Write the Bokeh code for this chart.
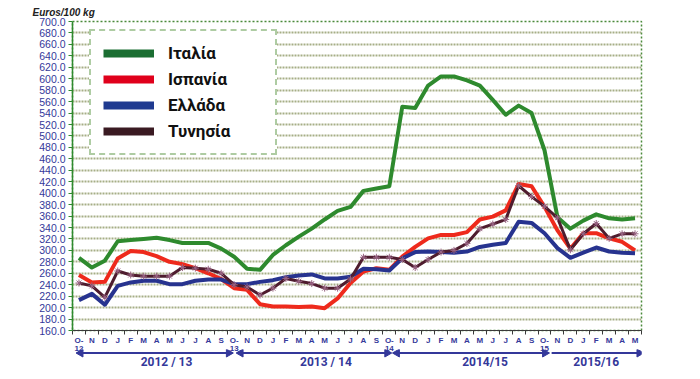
import math
from bokeh.plotting import figure
from bokeh.layouts import column
from bokeh.models import (Range1d, FixedTicker, PrintfTickFormatter, Legend, LegendItem)
from bokeh.core.properties import value
from bokeh.embed import file_html
from bokeh.resources import INLINE

# ---------------- data ----------------
months = ["O-\n12", "N", "D", "J", "F", "M", "A", "M", "J", "J", "A", "S",
          "O-\n13", "N", "D", "J", "F", "M", "A", "M", "J", "J", "A", "S",
          "O-\n14", "N", "D", "J", "F", "M", "A", "M", "J", "J", "A", "S",
          "O-\n15", "N", "D", "J", "F", "M", "A", "M"]
italy = [287, 270, 282, 316, 318, 320, 322, 318, 313, 313,
         313, 303, 289, 268, 266, 292, 309, 324, 338, 354,
         369, 376, 404, 408, 412, 551, 549, 588, 604, 604,
         597, 588, 563, 537, 553, 540, 475, 358, 338, 352,
         363, 356, 354, 356]
spain = [257, 244, 245, 286, 299, 297, 290, 280, 276, 269,
         260, 250, 234, 231, 206, 202, 202, 201, 202, 199,
         216, 243, 263, 269, 266, 289, 306, 321, 327, 327,
         332, 354, 359, 370, 416, 412, 376, 335, 303, 330,
         330, 321, 315, 300]
greece = [213, 224, 205, 238, 244, 247, 247, 241, 241, 247,
          249, 249, 241, 241, 245, 248, 253, 256, 258, 251,
          251, 254, 268, 267, 265, 286, 297, 298, 297, 296,
          298, 306, 310, 313, 350, 348, 330, 304, 287, 296,
          305, 298, 296, 295]
tunisia = [243, 238, 218, 264, 257, 255, 255, 255, 270, 269,
           267, 260, 240, 236, 222, 234, 251, 246, 242, 234,
           234, 250, 288, 288, 288, 284, 270, 284, 297, 300,
           312, 338, 346, 354, 413, 394, 377, 357, 301, 329,
           347, 321, 329, 329]
series_names = ["Ιταλία", "Ισπανία", "Ελλάδα", "Τυνησία"]
seasons = ["2012 / 13", "2013 / 14", "2014/15", "2015/16"]
y_ticks = list(range(160, 701, 20))
y_title = "Euros/100 kg"

# ---------------- layout / style ----------------
W = 690
BL, BR = 72, 49
MAIN_H, BB = 355, 24
line_colors = ["#2e8a2e", "#ee2a1c", "#27338f", "#4e1c2e"]
legend_colors = ["#1b6e32", "#e0001b", "#1f3a90", "#3a1a22"]
axis_blue = "#34389a"
season_label_x = [7.27, 19.6, 31.9, 40.5]
arrow_spans = [(0.36, 12.35, True), (12.74, 24.6, True), (24.83, 36.8, True), (37.05, 44.1, False)]

n = len(months)
xs = [i + 0.5 for i in range(n)]

p = figure(width=W, height=MAIN_H, output_backend="svg", toolbar_location=None,
           title=y_title, title_location="above",
           x_range=Range1d(0, n), y_range=Range1d(160, 700),
           min_border_left=BL, min_border_right=BR, min_border_top=21, min_border_bottom=BB)
p.background_fill_color = "white"
p.border_fill_color = "white"
p.outline_line_color = "#4a8a3a"
p.outline_line_dash = "2 2"
p.outline_line_width = 1.5

p.title.align = "left"
p.title.offset = -40
p.title.standoff = 8
p.title.text_font = "Liberation Sans"
p.title.text_font_style = "bold italic"
p.title.text_font_size = "10px"
p.title.text_color = "#222222"

# grid
p.xgrid.visible = False
p.ygrid.grid_line_color = "#a6ae86"
p.ygrid.grid_line_width = 2
p.ygrid.grid_line_dash = "2 1"

# y axis
p.yaxis.ticker = FixedTicker(ticks=y_ticks)
p.yaxis.formatter = PrintfTickFormatter(format="%.1f")
p.yaxis.axis_line_color = "#2f8a2f"
p.yaxis.axis_line_width = 1.5
p.yaxis.major_tick_line_color = "#2f8a2f"
p.yaxis.major_tick_in = 0
p.yaxis.major_tick_out = 4
p.yaxis.minor_tick_line_color = None
p.yaxis.major_label_standoff = 3
p.yaxis.major_label_text_font = "Liberation Sans"
p.yaxis.major_label_text_font_size = "10.5px"
p.yaxis.major_label_text_color = axis_blue

# x axis
p.xaxis.ticker = FixedTicker(ticks=xs, minor_ticks=list(range(n + 1)))
p.xaxis.major_label_overrides = {x: m for x, m in zip(xs, months)}
p.xaxis.axis_line_color = "#3a3a3a"
p.xaxis.axis_line_width = 1.2
p.xaxis.major_tick_line_color = None
p.xaxis.major_tick_out = 4
p.xaxis.major_tick_in = 0
p.xaxis.minor_tick_line_color = "#3a3a3a"
p.xaxis.minor_tick_out = 4
p.xaxis.minor_tick_in = 0
p.xaxis.major_label_standoff = 1
p.xaxis.major_label_text_font = "Liberation Sans"
p.xaxis.major_label_text_font_style = "bold"
p.xaxis.major_label_text_font_size = "8px"
p.xaxis.major_label_text_color = axis_blue
p.xaxis.major_label_text_line_height = 0.9

# series
all_series = [italy, spain, greece, tunisia]
widths = [4, 4, 4, 3]
for vals, col, w in zip(all_series, line_colors, widths):
    p.line(xs, vals, line_color=col, line_width=w, line_join="round")
p.scatter(xs, tunisia, marker="asterisk", size=7, line_color="#9a6585", line_width=1)

# legend swatches (renderers with a single NaN point so nothing is drawn in the plot)
items = []
for name, col in zip(series_names, legend_colors):
    r = p.line([float("nan")], [float("nan")], line_color=col, line_width=8)
    items.append(LegendItem(label=name, renderers=[r]))
legend = Legend(items=items, location=(17, 175), margin=0, padding=12, spacing=6,
                glyph_width=51, glyph_height=20, label_height=20, label_width=95,
                label_standoff=14)
legend.label_text_font = "Roboto"
legend.label_text_font_style = "bold"
legend.label_text_font_size = "17px"
legend.label_text_color = "#111111"
legend.border_line_color = "#5f9a4a"
legend.border_line_width = 2
legend.border_line_dash = "1 1"
legend.background_fill_color = "white"
legend.background_fill_alpha = 1.0
p.add_layout(legend, "center")

# ---------------- season strip below (overlaps the axis area slightly) ----------------
SH = 23
OVER = 6
s = figure(width=W, height=SH, output_backend="svg", toolbar_location=None,
           x_range=p.x_range, y_range=Range1d(0, SH),
           x_axis_location=None, y_axis_location=None, title_location=None,
           min_border_left=BL, min_border_right=BR, min_border_top=0, min_border_bottom=0)
s.margin = (-OVER, 0, 0, 0)
s.outline_line_color = None
s.grid.visible = False
s.background_fill_alpha = 0
s.border_fill_alpha = 0

arrow_y = SH - 3.5
label_y = SH - 12.5
head_off = 3.5 / 12.93
x0s = [a[0] for a in arrow_spans]
x1s = [a[1] for a in arrow_spans]
s.segment(x0=x0s, y0=[arrow_y] * 4, x1=x1s, y1=[arrow_y] * 4, line_color=axis_blue, line_width=2)
right_heads = [x - head_off for x in x1s]
left_heads = [a[0] + head_off for a in arrow_spans if a[2]]
s.scatter(right_heads, [arrow_y] * len(right_heads), marker="triangle", size=8,
          angle=-math.pi / 2, fill_color=axis_blue, line_color=axis_blue)
s.scatter(left_heads, [arrow_y] * len(left_heads), marker="triangle", size=8,
          angle=math.pi / 2, fill_color=axis_blue, line_color=axis_blue)
s.text(season_label_x, [label_y] * 4, text=seasons, text_align="center", text_baseline="middle",
       text_font=value("Roboto"), text_font_style="bold", text_font_size="12px",
       text_color=axis_blue)

layout = column(p, s, spacing=0)
open("out.html", "w").write(file_html(layout, INLINE))
